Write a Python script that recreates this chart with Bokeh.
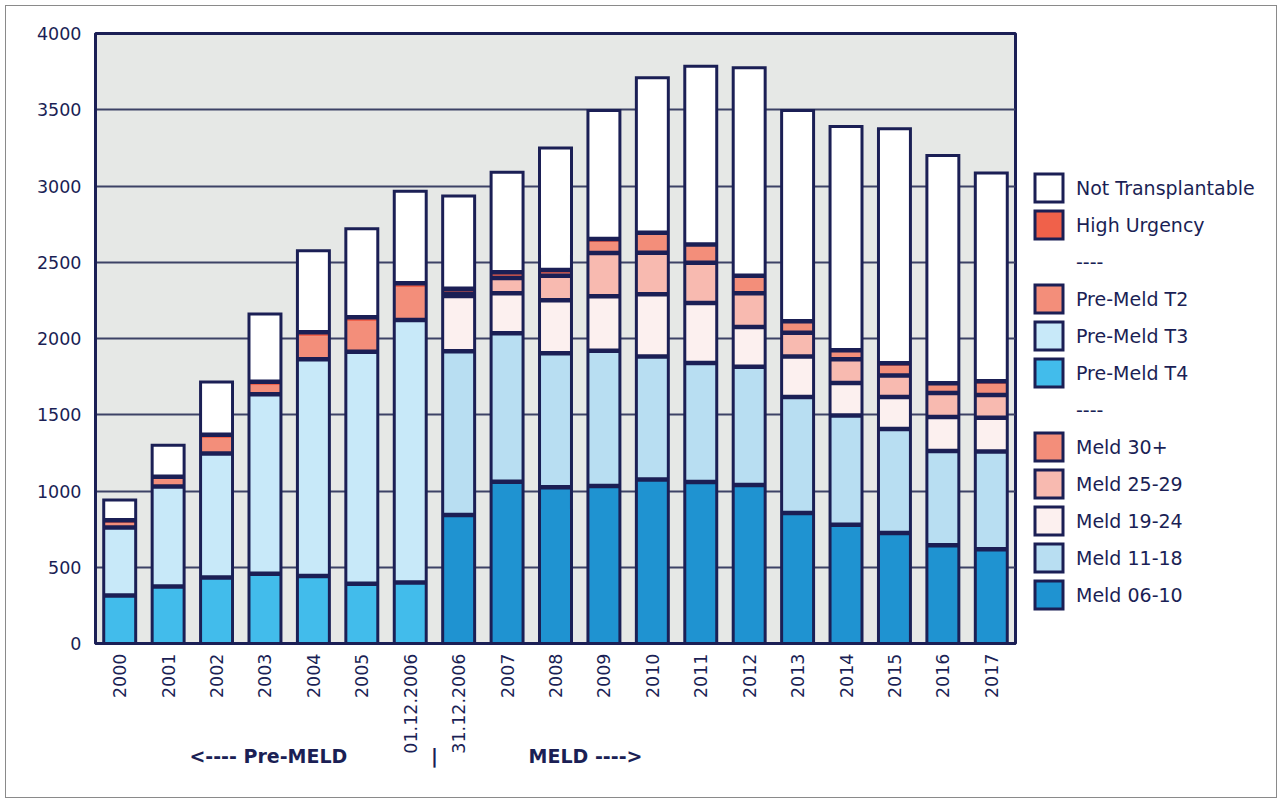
import math
from bokeh.plotting import figure
from bokeh.models import (ColumnDataSource, Range1d, Legend, LegendItem, FixedTicker, LinearAxis)
from bokeh.layouts import row
from bokeh.embed import file_html
from bokeh.resources import INLINE

categories = ["2000", "2001", "2002", "2003", "2004", "2005", "01.12.2006", "31.12.2006",
              "2007", "2008", "2009", "2010", "2011", "2012", "2013", "2014", "2015", "2016", "2017"]

pre_meld_t4 = [314, 374, 432, 458, 443, 391, 400, 0, 0, 0, 0, 0, 0, 0, 0, 0, 0, 0, 0]
pre_meld_t3 = [446, 655, 814, 1177, 1421, 1522, 1722, 0, 0, 0, 0, 0, 0, 0, 0, 0, 0, 0, 0]
pre_meld_t2 = [30, 60, 101, 57, 151, 202, 216, 0, 0, 0, 0, 0, 0, 0, 0, 0, 0, 0, 0]
meld_06_10 = [0, 0, 0, 0, 0, 0, 0, 843, 1061, 1024, 1033, 1076, 1059, 1039, 856, 779, 725, 644, 618]
meld_11_18 = [0, 0, 0, 0, 0, 0, 0, 1074, 974, 880, 886, 806, 781, 775, 761, 716, 681, 618, 641]
meld_19_24 = [0, 0, 0, 0, 0, 0, 0, 362, 261, 347, 358, 408, 393, 262, 265, 214, 211, 223, 221]
meld_25_29 = [0, 0, 0, 0, 0, 0, 0, 15, 101, 161, 284, 273, 264, 220, 155, 155, 140, 157, 149]
meld_30_plus = [0, 0, 0, 0, 0, 0, 0, 10, 12, 12, 71, 127, 112, 97, 61, 44, 61, 50, 72]
high_urgency = [18, 5, 22, 24, 26, 24, 24, 22, 25, 25, 20, 4, 8, 19, 15, 15, 20, 15, 19]
not_transplantable = [133, 206, 346, 444, 534, 581, 603, 609, 656, 801, 843, 1016, 1168, 1363,
                      1382, 1467, 1537, 1493, 1365]

y_ticks = [0, 500, 1000, 1500, 2000, 2500, 3000, 3500, 4000]
era_labels = ["<---- Pre-MELD", "|", "MELD ---->"]
era_positions = [3.07, 6.5, 9.62]

NAVY = "#1B1F55"
FONT = "DejaVu Sans"
colors = {
    "Not Transplantable": "#FFFFFF",
    "High Urgency": "#F0614A",
    "Pre-Meld T2": "#F38E7A",
    "Pre-Meld T3": "#C8E9F9",
    "Pre-Meld T4": "#42BCEB",
    "Meld 30+": "#F38E7A",
    "Meld 25-29": "#F8BAB0",
    "Meld 19-24": "#FCF0EF",
    "Meld 11-18": "#B8DEF2",
    "Meld 06-10": "#1F93D1",
}

# stacking order, bottom to top
layers = [
    ("Pre-Meld T4", pre_meld_t4),
    ("Meld 06-10", meld_06_10),
    ("Pre-Meld T3", pre_meld_t3),
    ("Meld 11-18", meld_11_18),
    ("Meld 19-24", meld_19_24),
    ("Meld 25-29", meld_25_29),
    ("Pre-Meld T2", pre_meld_t2),
    ("Meld 30+", meld_30_plus),
    ("High Urgency", high_urgency),
    ("Not Transplantable", not_transplantable),
]

BAR_W = 0.66
xs = list(range(len(categories)))

p = figure(x_range=Range1d(-0.5, len(categories) - 0.5), y_range=Range1d(0, 4000),
           width=1011, height=791, output_backend="svg", toolbar_location=None,
           min_border_left=89, min_border_right=2, min_border_top=27, min_border_bottom=154)
p.background_fill_color = "#E6E8E6"
p.border_fill_color = "white"
p.outline_line_color = NAVY
p.outline_line_width = 3
p.outline_line_alpha = 1

# filled segments
cum = [0] * len(categories)
layer_sources = {}
per_bar = [[] for _ in categories]
for name, vals in layers:
    bottoms = list(cum)
    tops = [b + v for b, v in zip(bottoms, vals)]
    src = ColumnDataSource(dict(x=xs, b=bottoms, t=tops))
    layer_sources[name] = src
    p.vbar(x="x", bottom="b", top="t", width=BAR_W, source=src,
           fill_color=colors[name], line_color=None)
    for i, v in enumerate(vals):
        if v > 0:
            per_bar[i].append((name, tops[i]))
    cum = tops

# separators between segments (none under the High Urgency strip)
sep_x0, sep_x1, sep_y = [], [], []
for i, segs in enumerate(per_bar):
    for (lo_name, lo_top), (up_name, _) in zip(segs[:-1], segs[1:]):
        if up_name != "High Urgency":
            sep_x0.append(xs[i] - BAR_W / 2)
            sep_x1.append(xs[i] + BAR_W / 2)
            sep_y.append(lo_top)
sep_src = ColumnDataSource(dict(x0=sep_x0, x1=sep_x1, y=sep_y))
p.segment(x0="x0", x1="x1", y0="y", y1="y", source=sep_src, line_color=NAVY, line_width=4.5)

# bar outlines
tot_src = ColumnDataSource(dict(x=xs, t=cum))
p.vbar(x="x", bottom=0, top="t", width=BAR_W, source=tot_src, fill_color=None,
       line_color=NAVY, line_width=3, line_join="miter")

# axes
for ax in (p.xaxis, p.yaxis):
    ax.axis_line_color = NAVY
    ax.axis_line_width = 3
    ax.major_tick_line_color = None
    ax.minor_tick_line_color = None
    ax.major_tick_out = 0
    ax.minor_tick_out = 0
    ax.major_label_text_font = FONT
    ax.major_label_text_font_size = "17.5px"
    ax.major_label_text_color = NAVY
p.yaxis.ticker = FixedTicker(ticks=y_ticks)
p.yaxis.major_label_standoff = 14
p.xaxis.ticker = FixedTicker(ticks=xs)
p.xaxis.major_label_overrides = {i: c for i, c in zip(xs, categories)}
p.xaxis.major_label_orientation = math.pi / 2
p.xaxis.major_label_standoff = 10
p.ygrid.ticker = FixedTicker(ticks=y_ticks)
p.ygrid.grid_line_color = "#3d4266"
p.ygrid.grid_line_width = 2
p.xgrid.grid_line_color = None

# era annotations below the axis, as a second label-only axis
era_axis = LinearAxis(ticker=FixedTicker(ticks=era_positions),
                      major_label_overrides={pos: t for pos, t in zip(era_positions, era_labels)},
                      axis_line_color=None, major_tick_line_color=None, minor_tick_line_color=None,
                      major_tick_out=0, major_tick_in=0, minor_tick_out=0, minor_tick_in=0,
                      major_label_standoff=-12, major_label_text_font=FONT,
                      major_label_text_font_size="19px", major_label_text_font_style="bold",
                      major_label_text_color=NAVY)
p.add_layout(era_axis, "below")

# legend figure (hidden renderers carry outlined swatches)
lg = figure(width=259, height=791, output_backend="svg", toolbar_location=None,
            x_range=Range1d(-0.5, len(categories) - 0.5), y_range=Range1d(0, 4000),
            x_axis_location=None, y_axis_location=None, min_border=0)
lg.outline_line_color = None
lg.grid.visible = False
lg.background_fill_color = "white"
lg.border_fill_color = "white"

def legend_renderer(name):
    r = lg.vbar(x="x", bottom="b", top="t", width=BAR_W, source=layer_sources[name],
                fill_color=colors[name], line_color=NAVY, line_width=3, line_join="miter")
    r.visible = False
    return r

def blank_renderer():
    r = lg.vbar(x="x", bottom="b", top="t", width=BAR_W, source=layer_sources["High Urgency"],
                fill_alpha=0, line_alpha=0)
    r.visible = False
    return r

legend_order = ["Not Transplantable", "High Urgency", None, "Pre-Meld T2", "Pre-Meld T3",
                "Pre-Meld T4", None, "Meld 30+", "Meld 25-29", "Meld 19-24", "Meld 11-18", "Meld 06-10"]
items = []
for name in legend_order:
    if name is None:
        items.append(LegendItem(label="----", renderers=[blank_renderer()]))
    else:
        items.append(LegendItem(label=name, renderers=[legend_renderer(name)]))

legend = Legend(items=items, location=(14, 31), glyph_width=35, glyph_height=35, spacing=2,
                label_standoff=10, padding=0, margin=0, border_line_color=None,
                background_fill_alpha=0, inactive_fill_alpha=0,
                label_text_font=FONT, label_text_font_size="19px", label_text_color=NAVY)
lg.add_layout(legend, "center")

layout = row(p, lg, spacing=0,
             styles={"margin-left": "6px", "margin-top": "6px", "outline": "1px solid #8a8a8a"})
open("out.html", "w").write(file_html(layout, INLINE))
